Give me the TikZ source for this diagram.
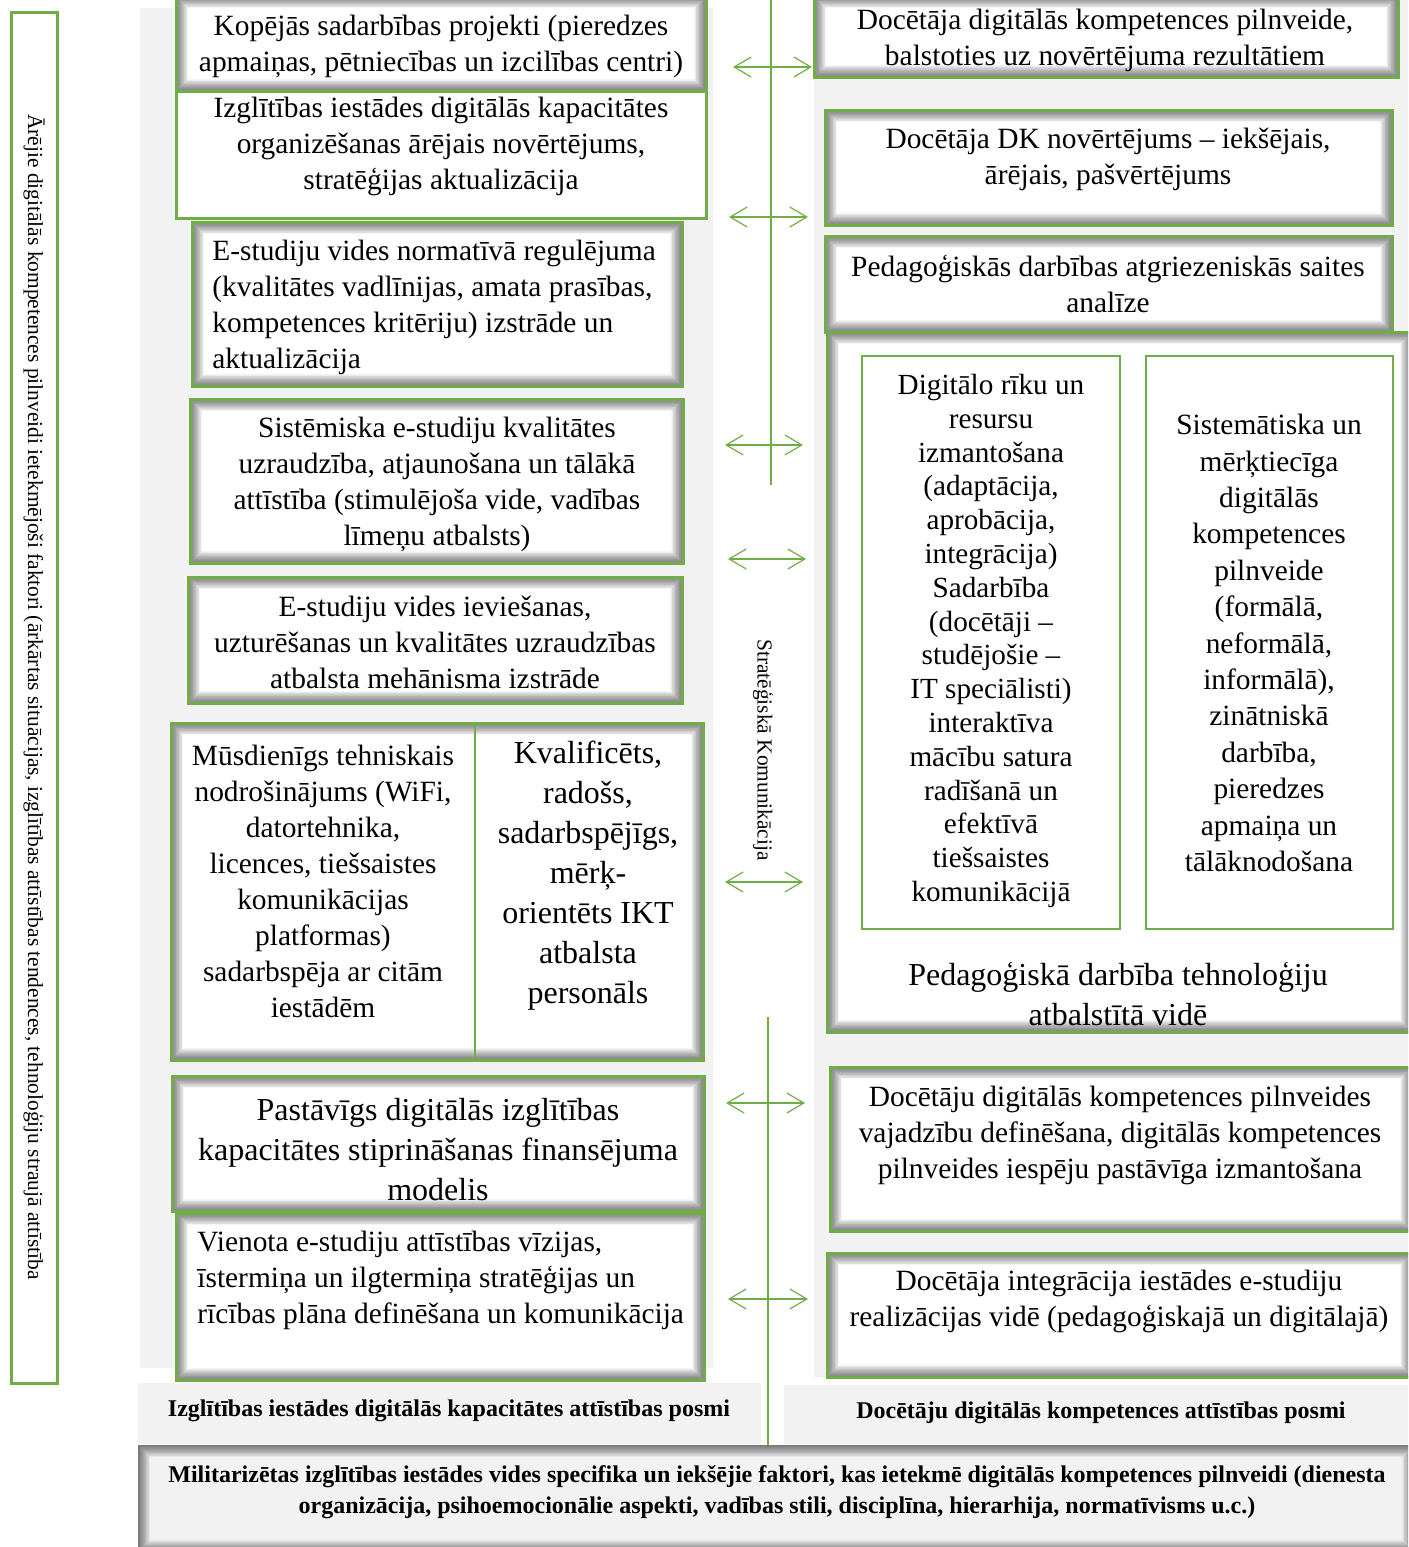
\documentclass[tikz,border=0pt]{standalone}
\usepackage{fontspec}
\setmainfont{Liberation Serif}
\usetikzlibrary{arrows.meta,fit}
\definecolor{leafgreen}{RGB}{112,173,71}
\definecolor{panelgray}{RGB}{242,242,242}
\newcommand{\mainfs}{\fontsize{14.7}{18}\selectfont}
\newcommand{\bigfs}{\fontsize{16}{20}\selectfont}
\newcommand{\colfs}{\fontsize{14.6}{16.9}\selectfont}
\newcommand{\sidefs}{\fontsize{10.7}{12}\selectfont}
\newcommand{\basefs}{\fontsize{12}{15.5}\selectfont\bfseries}

\tikzset{
  panel/.style={fill=panelgray, draw=none, inner sep=0pt},
  inshadow/.style={path picture={
      \foreach \w in {0.75,1.5,...,12}
        \draw[black, opacity=0.04, line width=\w pt]
          (path picture bounding box.south west) rectangle (path picture bounding box.north east);}},
  plainbox/.style={draw=leafgreen, line width=1.5pt, fill=white, inner sep=0pt},
  stagebox/.style={plainbox, inshadow},
  colbox/.style={plainbox, line width=1.2pt},
  basebox/.style={panel, inshadow},
  txt/.style={inner sep=0pt, align=center, font=\mainfs},
  dblarrow/.style={leafgreen, line width=0.6pt,
    {Straight Barb[length=8.5pt,width=10pt]}-{Straight Barb[length=8.5pt,width=10pt]}},
  axisline/.style={leafgreen, line width=0.8pt},
}

\begin{document}
\begin{tikzpicture}[x=0.5pt, y=-0.5pt]
  \clip (0,0) rectangle (1408,1547);
  % background panels
  \node[panel, fit={(140,8) (713,1368)}] (lpanel) {};
  \node[panel, fit={(814,-2) (1412,1377)}] (rpanel) {};

  % outer factors
  \node[plainbox, fit={(11,12) (57,1383)}] (ext) {};
  \node[txt, font=\sidefs, rotate=-90] (extt) at (34,697) {Ārējie digitālās kompetences pilnveidi ietekmējoši faktori (ārkārtas situācijas, izglītības attīstības tendences, tehnoloģiju straujā attīstība};

  % institution stages
  \node[stagebox, fit={(176,-4) (706,91)}] (k1) {};
  \node[txt] (k1t) at (441,46) {Kopējās sadarbības projekti (pieredzes\\apmaiņas, pētniecības un izcilības centri)};
  \node[plainbox, fit={(176,91) (706,218)}] (k2) {};
  \node[txt] (k2t) at (441,146) {Izglītības iestādes digitālās kapacitātes\\organizēšanas ārējais novērtējums,\\stratēģijas aktualizācija};
  \node[stagebox, fit={(192,222) (682,386)}] (k3) {};
  \node[txt, align=left, anchor=west] (k3t) at (212,307) {E-studiju vides normatīvā regulējuma\\(kvalitātes vadlīnijas, amata prasības,\\kompetences kritēriju) izstrāde un\\aktualizācija};
  \node[stagebox, fit={(190,399) (683,563)}] (k4) {};
  \node[txt] (k4t) at (437,484) {Sistēmiska e-studiju kvalitātes\\uzraudzība, atjaunošana un tālākā\\attīstība (stimulējoša vide, vadības\\līmeņu atbalsts)};
  \node[stagebox, fit={(188,577) (682,703)}] (k5) {};
  \node[txt] (k5t) at (435,642) {E-studiju vides ieviešanas,\\uzturēšanas un kvalitātes uzraudzības\\atbalsta mehānisma izstrāde};
  \node[stagebox, fit={(171,723) (703,1060)}] (k6) {};
  \draw[leafgreen, line width=1.2pt] (475,723) -- (475,1060);
  \node[txt] (k6a) at (323,881) {Mūsdienīgs tehniskais\\nodrošinājums (WiFi,\\datortehnika,\\licences, tiešsaistes\\komunikācijas\\platformas)\\sadarbspēja ar citām\\iestādēm};
  \node[txt, font=\bigfs] (k6b) at (588,876) {Kvalificēts,\\radošs,\\sadarbspējīgs,\\mērķ-\\orientēts IKT\\atbalsta\\personāls};
  \node[stagebox, fit={(172,1076) (704,1211)}] (k7) {};
  \node[txt, font=\bigfs] (k7t) at (438,1150) {Pastāvīgs digitālās izglītības\\kapacitātes stiprināšanas finansējuma\\modelis};
  \node[stagebox, fit={(176,1213) (704,1380)}] (k8) {};
  \node[txt, align=left, anchor=west] (k8t) at (197,1280) {Vienota e-studiju attīstības vīzijas,\\īstermiņa un ilgtermiņa stratēģijas un\\rīcības plāna definēšana un komunikācija};

  % teacher stages
  \node[stagebox, fit={(814,-4) (1398,77)}] (d1) {};
  \node[txt] (d1t) at (1105,40) {Docētāja digitālās kompetences pilnveide,\\balstoties uz novērtējuma rezultātiem};
  \node[stagebox, fit={(825,110) (1392,225)}] (d2) {};
  \node[txt] (d2t) at (1108,159) {Docētāja DK novērtējums – iekšējais,\\ārējais, pašvērtējums};
  \node[stagebox, fit={(825,236) (1392,332)}] (d3) {};
  \node[txt] (d3t) at (1108,284) {Pedagoģiskās darbības atgriezeniskās saites\\analīze};
  \node[stagebox, fit={(827,332) (1412,1032)}] (d4) {};
  \node[colbox, fit={(862,356) (1120,929)}] (d4a) {};
  \node[txt, font=\colfs] (d4at) at (991,641) {Digitālo rīku un\\resursu\\izmantošana\\(adaptācija,\\aprobācija,\\integrācija)\\Sadarbība\\(docētāji –\\studējošie –\\IT speciālisti)\\interaktīva\\mācību satura\\radīšanā un\\efektīvā\\tiešsaistes\\komunikācijā};
  \node[colbox, fit={(1146,356) (1393,929)}] (d4b) {};
  \node[txt, font=\fontsize{14.7}{18.2}\selectfont] (d4bt) at (1269,643) {Sistemātiska un\\mērķtiecīga\\digitālās\\kompetences\\pilnveide\\(formālā,\\neformālā,\\informālā),\\zinātniskā\\darbība,\\pieredzes\\apmaiņa un\\tālāknodošana};
  \node[txt, font=\bigfs] (d4t) at (1118,994) {Pedagoģiskā darbība tehnoloģiju\\atbalstītā vidē};
  \node[stagebox, fit={(830,1067) (1412,1231)}] (d5) {};
  \node[txt] (d5t) at (1120,1135) {Docētāju digitālās kompetences pilnveides\\vajadzību definēšana, digitālās kompetences\\pilnveides iespēju pastāvīga izmantošana};
  \node[stagebox, fit={(827,1253) (1412,1377)}] (d6) {};
  \node[txt] (d6t) at (1119,1301) {Docētāja integrācija iestādes e-studiju\\realizācijas vidē (pedagoģiskajā un digitālajā)};

  % column captions and base
  \node[panel, fit={(138,1383) (761,1444)}] (lposmi) {};
  \node[txt, font=\basefs] (lposmit) at (449,1411) {Izglītības iestādes digitālās kapacitātes attīstības posmi};
  \node[panel, fit={(784,1385) (1412,1444)}] (rposmi) {};
  \node[txt, font=\basefs] (rposmit) at (1101,1413) {Docētāju digitālās kompetences attīstības posmi};
  \node[basebox, fit={(138,1445) (1414,1552)}] (base) {};
  \node[txt, font=\basefs] (baset) at (777,1492) {Militarizētas izglītības iestādes vides specifika un iekšējie faktori, kas ietekmē digitālās kompetences pilnveidi (dienesta\\organizācija, psihoemocionālie aspekti, vadības stili, disciplīna, hierarhija, normatīvisms u.c.)};

  % strategic communication axis
  \coordinate (ctop) at (771,-2);
  \coordinate (cmid) at (771,485);
  \coordinate (clow) at (768,1017);
  \coordinate (cbot) at (768,1445);
  \draw[axisline] (ctop) -- (cmid);
  \draw[axisline] (clow) -- (cbot);
  \node[txt, font=\sidefs, rotate=-90] (strat) at (763,750) {Stratēģiskā Komunikācija};
  \foreach \n/\y/\xl/\xr in {1/67/733/812, 2/217/729/808, 3/445/725/803, 4/559/728/806,
                             5/882/725/803, 6/1103/726/805, 7/1299/728/808} {
    \coordinate (al\n) at (\xl,\y);
    \coordinate (ar\n) at (\xr,\y);
    \draw[dblarrow] (al\n) -- (ar\n);
  }
\end{tikzpicture}
\end{document}
